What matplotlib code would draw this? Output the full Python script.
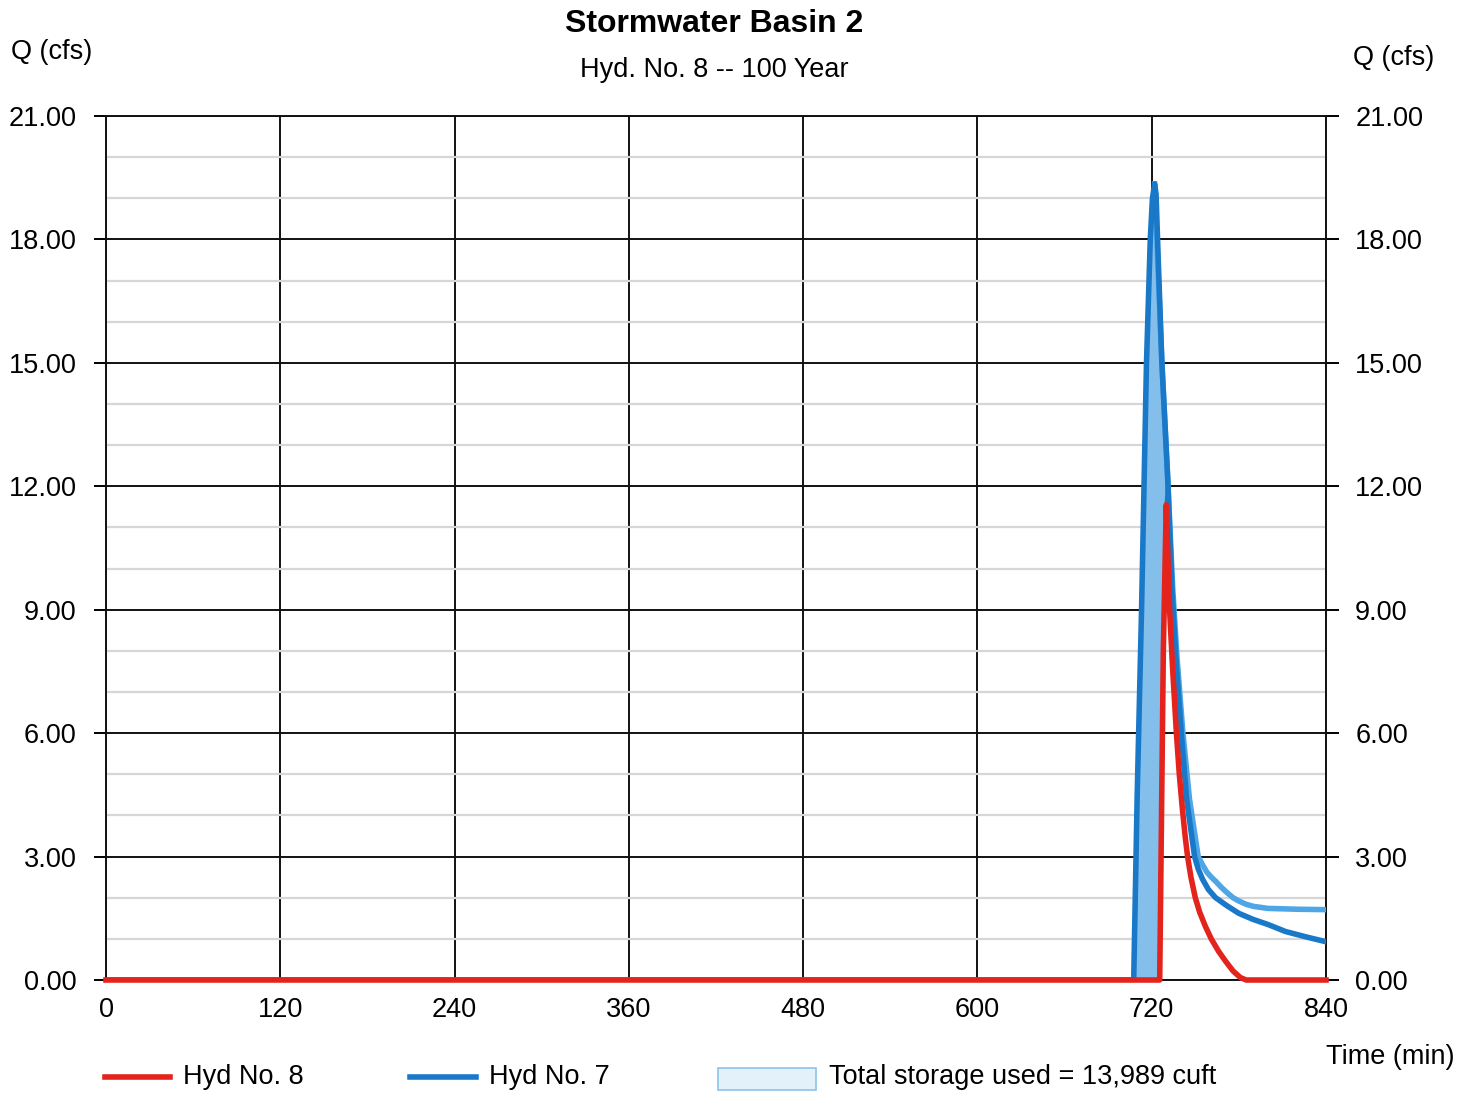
import matplotlib
matplotlib.use('Agg')
import matplotlib.pyplot as plt
import numpy as np
from matplotlib.lines import Line2D
from matplotlib.patches import Rectangle

plt.rcParams['font.family'] = ['Liberation Sans', 'DejaVu Sans']

# Hyd No. 7 (inflow), time in min, Q in cfs
hyd7_t = [0, 706, 707.6, 710, 713, 716.4, 719, 720.5, 722, 723, 724.5, 727, 731, 734, 736.7, 740.4,
          744, 749.5, 752, 755, 759, 764, 772, 780, 790, 800, 812, 826, 840]
hyd7_q = [0, 0, 0, 4.5, 9.0, 15.0, 18.0, 19.0, 19.35, 19.1, 17.5, 15.0, 12.2, 9.5, 7.8, 6.0,
          4.4, 3.0, 2.7, 2.45, 2.2, 2.0, 1.8, 1.62, 1.47, 1.35, 1.18, 1.05, 0.93]

# light blue trace next to the inflow recession
shade_t = [722, 727, 731, 734.5, 737.5, 741.5, 746, 752, 755, 758, 761, 764, 768, 772, 776, 780,
           785, 790, 800, 820, 840]
shade_q = [19.35, 15.0, 12.2, 9.5, 7.8, 6.0, 4.4, 3.0, 2.8, 2.62, 2.5, 2.4, 2.25, 2.12, 2.0, 1.92,
           1.84, 1.79, 1.74, 1.72, 1.71]

# Hyd No. 8 (outflow)
hyd8_t = [0, 725.5, 728, 730, 732.3, 734.5, 737, 739, 741, 743, 744.7, 747, 750, 753, 757, 761,
          766, 771, 776, 781, 785, 840]
hyd8_q = [0, 0, 8.0, 11.55, 9.0, 7.5, 6.0, 5.0, 4.2, 3.5, 3.0, 2.5, 2.0, 1.65, 1.3, 1.0,
          0.7, 0.45, 0.22, 0.06, 0, 0]

x_ticks = [0, 120, 240, 360, 480, 600, 720, 840]
y_ticks = [0, 3, 6, 9, 12, 15, 18, 21]
storage_text = 'Total storage used = 13,989 cuft'

red = '#e3231c'
blue = '#1a78c8'
light = '#4ea6e6'
fillc = '#84bfec'

W, H = 1473, 1093
fig = plt.figure(figsize=(W / 100, H / 100), dpi=100)
ax = fig.add_axes([106 / W, 1 - 980 / H, (1326 - 106) / W, (980 - 116) / H])

# storage area: inflow rising limb up to the crossing, back down the outflow rising limb
i7 = [k for k, t in enumerate(hyd7_t) if 707 <= t <= 731]
i8 = [k for k, t in enumerate(hyd8_t) if 725 <= t <= 730]
poly_t = [hyd7_t[k] for k in i7] + [hyd8_t[k] for k in reversed(i8)]
poly_q = [hyd7_q[k] for k in i7] + [hyd8_q[k] for k in reversed(i8)]
ax.fill(poly_t, poly_q, facecolor=fillc, edgecolor=blue, lw=2.5, zorder=3)

ax.plot(shade_t, shade_q, color=light, lw=4, zorder=4)
ax.plot(hyd7_t, hyd7_q, color=blue, lw=4, zorder=5)
ax.plot(hyd8_t, hyd8_q, color=red, lw=4, zorder=6, clip_on=False)

ax.set_xlim(0, 840)
ax.set_ylim(0, 21)
ax.set_xticks(x_ticks)
ax.set_xticklabels([str(v) for v in x_ticks])
ax.set_yticks(y_ticks)
ax.set_yticklabels(['%.2f' % v for v in y_ticks])
ax.set_yticks(np.arange(0, 22, 1), minor=True)

ax.grid(which='major', color='#111111', lw=1.4, zorder=1)
ax.grid(which='minor', axis='y', color='#d6d6d6', lw=1.6, zorder=0)
ax.set_axisbelow(True)
for s in ax.spines.values():
    s.set_color('#111111')
    s.set_linewidth(1.4)

ax.tick_params(axis='x', length=0, pad=12, labelsize=19.5)
ax.tick_params(axis='y', which='major', length=9, width=1.4, pad=12, labelsize=19.5,
               right=True, labelright=True)
ax.tick_params(axis='y', which='minor', length=0)

fig.text(714 / W, 1 - 24 / H, 'Stormwater Basin 2', ha='center', va='center',
         fontsize=23, fontweight='bold')
fig.text(714 / W, 1 - 70 / H, 'Hyd. No. 8 -- 100 Year', ha='center', va='center', fontsize=19.5)
fig.text(52 / W, 1 - 52 / H, 'Q (cfs)', ha='center', va='center', fontsize=19.5)
fig.text(1394 / W, 1 - 58 / H, 'Q (cfs)', ha='center', va='center', fontsize=19.5)
fig.text(1390 / W, 1 - 1057 / H, 'Time (min)', ha='center', va='center', fontsize=19.5)

# legend along the bottom
ly = 1 - 1077 / H
fig.add_artist(Line2D([105 / W, 170 / W], [ly, ly], color=red, lw=4))
fig.text(183 / W, ly, 'Hyd No. 8', ha='left', va='center', fontsize=19.5)
fig.add_artist(Line2D([410 / W, 476 / W], [ly, ly], color=blue, lw=4))
fig.text(489 / W, ly, 'Hyd No. 7', ha='left', va='center', fontsize=19.5)
fig.add_artist(Rectangle((718 / W, 1 - 1090 / H), 98 / W, 22 / H, facecolor='#e3f1fb',
                         edgecolor='#8cc4ea', lw=1.2, transform=fig.transFigure))
fig.text(829 / W, ly, storage_text, ha='left', va='center', fontsize=19.5)

fig.savefig('out.png', dpi=100)
